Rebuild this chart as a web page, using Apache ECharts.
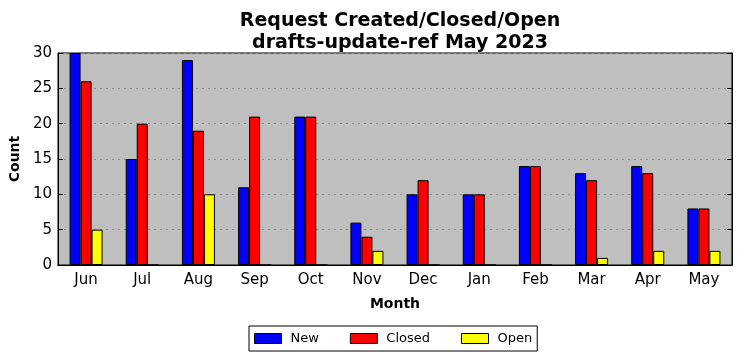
<!DOCTYPE html>
<html><head><meta charset="utf-8">
<script src="https://cdn.jsdelivr.net/npm/echarts@6/dist/echarts.min.js"></script>
<style>html,body{margin:0;padding:0;background:#fff}#c{width:742px;height:361px}</style>
</head><body><div id="c"></div>
<script>
const months = ['Jun','Jul','Aug','Sep','Oct','Nov','Dec','Jan','Feb','Mar','Apr','May'];
const newVals = [30,15,29,11,21,6,10,10,14,13,14,8];
const closedVals = [26,20,19,21,21,4,12,10,14,12,13,8];
const openVals = [5,0,10,0,0,2,0,0,0,1,2,2];
const yTicks = [0,5,10,15,20,25,30];

const chart = echarts.init(document.getElementById('c'), null, {renderer:'canvas'});
const font = 'DejaVu Sans';
const mk = (name, data, color) => ({
  name, type:'bar', data, barWidth:11, barGap:'0%',
  itemStyle:{color, borderColor:'#000', borderWidth:1},
  xAxisIndex:0, yAxisIndex:0
});
chart.setOption({
  animation:false,
  textStyle:{fontFamily:font},
  title:{text:'Request Created/Closed/Open\ndrafts-update-ref May 2023', left:395, textAlign:'center', top:5,
    textStyle:{fontFamily:font, fontSize:19, fontWeight:'bold', color:'#000', lineHeight:22}},
  grid:{left:57, right:10, top:53, bottom:96, show:true, backgroundColor:'#bfbfbf', borderColor:'#000', borderWidth:1},
  legend:{top:326, left:249, itemWidth:27, itemHeight:10, itemGap:31, icon:'rect',
    borderColor:'#000', borderWidth:1, padding:[6,5,6,5], borderRadius:0,
    itemStyle:{borderColor:'#000', borderWidth:1},
    textStyle:{fontFamily:font, fontSize:13, color:'#000', padding:[0,0,0,4]},
    data:['New','Closed','Open']},
  xAxis:[{type:'category', data:months, boundaryGap:true,
      name:'Month', nameLocation:'middle', nameGap:32,
      nameTextStyle:{fontFamily:font, fontSize:14, fontWeight:'bold', color:'#000'},
      axisLine:{lineStyle:{color:'#000'}}, axisTick:{inside:true, alignWithLabel:true, length:5, lineStyle:{color:'#000'}},
      axisLabel:{fontFamily:font, fontSize:15, color:'#000', margin:8}},
    {type:'category', data:months, position:'top', boundaryGap:true,
      axisLine:{lineStyle:{color:'#000'}}, axisTick:{inside:true, alignWithLabel:true, length:5, lineStyle:{color:'#000'}},
      axisLabel:{show:false}}],
  yAxis:[{type:'value', min:0, max:30, interval:5,
      name:'Count', nameLocation:'middle', nameGap:33, nameRotate:90,
      nameTextStyle:{fontFamily:font, fontSize:14, fontWeight:'bold', color:'#000'},
      axisLine:{show:true, lineStyle:{color:'#000'}}, axisTick:{show:true, inside:true, length:5, lineStyle:{color:'#000'}},
      axisLabel:{fontFamily:font, fontSize:15, color:'#000', margin:6},
      splitLine:{show:true, lineStyle:{color:'#8a8a8a', type:[2,4], width:1}}},
    {type:'value', min:0, max:30, interval:5, position:'right',
      axisLine:{show:true, lineStyle:{color:'#000'}}, axisTick:{show:true, inside:true, length:5, lineStyle:{color:'#000'}},
      axisLabel:{show:false}, splitLine:{show:false}}],
  series:[mk('New', newVals, '#0000ff'), mk('Closed', closedVals, '#ff0000'), mk('Open', openVals, '#ffff00')]
});
</script></body></html>
